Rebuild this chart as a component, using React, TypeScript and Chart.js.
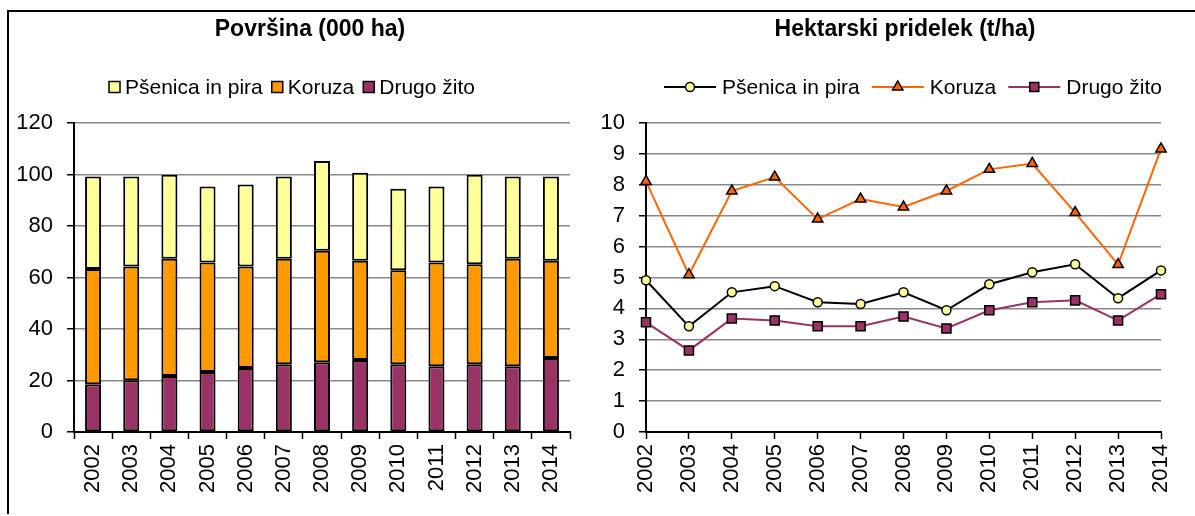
import React, { useEffect, useRef } from "react";
import { Chart, registerables } from "chart.js";

Chart.register(...registerables);

const FONT = "'Liberation Sans', Arial, Helvetica, sans-serif";
Chart.defaults.font.family = FONT;
Chart.defaults.color = "#000";

// ---------- DATA ----------
const years = ["2002", "2003", "2004", "2005", "2006", "2007", "2008", "2009", "2010", "2011", "2012", "2013", "2014"];
const seriesNames = ["Pšenica in pira", "Koruza", "Drugo žito"];

// Površina (000 ha)
const areaWheat = [35.9, 34.9, 32.6, 29.5, 31.8, 31.9, 34.8, 34.2, 31.7, 29.5, 34.8, 31.9, 32.7];
const areaMaize = [44.8, 44.2, 45.6, 42.5, 39.4, 41.0, 43.3, 38.5, 36.5, 40.3, 38.8, 41.8, 37.8];
const areaOther = [18.5, 20.1, 21.7, 23.3, 24.9, 26.3, 27.1, 28.0, 26.3, 25.5, 26.3, 25.5, 28.7];

// Hektarski pridelek (t/ha)
const yieldWheat = [4.91, 3.42, 4.52, 4.72, 4.2, 4.14, 4.52, 3.94, 4.78, 5.17, 5.43, 4.33, 5.23];
const yieldMaize = [8.11, 5.09, 7.8, 8.25, 6.89, 7.54, 7.28, 7.8, 8.5, 8.69, 7.1, 5.42, 9.16];
const yieldOther = [3.55, 2.64, 3.67, 3.61, 3.42, 3.42, 3.74, 3.35, 3.94, 4.2, 4.26, 3.61, 4.46];

const areaAxis = { min: 0, max: 120, step: 20 };
const yieldAxis = { min: 0, max: 10, step: 1 };

const titleArea = "Površina (000 ha)";
const titleYield = "Hektarski pridelek (t/ha)";

// ---------- STYLES ----------
const C_WHEAT = "#FFFF99";
const C_MAIZE_BAR = "#FF9900";
const C_OTHER = "#993366";
const C_MAIZE_LINE = "#FF6600";

type LegendItem = {
  label: string;
  fill: string;
  line?: string;
  marker?: "circle" | "triangle" | "rect";
};

function drawMarker(ctx: CanvasRenderingContext2D, kind: string, x: number, y: number, fill: string) {
  ctx.beginPath();
  if (kind === "circle") {
    ctx.arc(x, y, 4.5, 0, Math.PI * 2);
  } else if (kind === "triangle") {
    const r = 6;
    ctx.moveTo(x, y - r);
    ctx.lineTo(x + r * 0.866, y + r * 0.5);
    ctx.lineTo(x - r * 0.866, y + r * 0.5);
    ctx.closePath();
  } else {
    ctx.rect(x - 4.5, y - 4.5, 9, 9);
  }
  ctx.fillStyle = fill;
  ctx.fill();
  ctx.lineWidth = 1.5;
  ctx.strokeStyle = "#000";
  ctx.stroke();
}

function makeHeader(cfg: {
  title: string;
  titleX: number;
  titleY: number;
  legendX: number;
  legendY: number;
  kind: "box" | "line";
  items: LegendItem[];
}) {
  return {
    id: "header",
    afterDraw(chart: any) {
      const ctx: CanvasRenderingContext2D = chart.ctx;
      ctx.save();
      ctx.fillStyle = "#000";
      ctx.textBaseline = "middle";
      ctx.textAlign = "center";
      ctx.font = `bold 23px ${FONT}`;
      ctx.fillText(cfg.title, cfg.titleX, cfg.titleY);

      ctx.font = `21px ${FONT}`;
      const symW = cfg.kind === "box" ? 11 : 52;
      const symGap = cfg.kind === "box" ? 5 : 6;
      const itemGap = cfg.kind === "box" ? 9 : 12;
      const widths = cfg.items.map((it) => ctx.measureText(it.label).width);
      const total =
        widths.reduce((a, b) => a + b, 0) +
        cfg.items.length * (symW + symGap) +
        (cfg.items.length - 1) * itemGap;
      let x = cfg.legendX - total / 2;
      const y = cfg.legendY;
      cfg.items.forEach((it, i) => {
        if (cfg.kind === "box") {
          ctx.fillStyle = it.fill;
          ctx.fillRect(x, y - 5.5, 11, 11);
          ctx.lineWidth = 1.5;
          ctx.strokeStyle = "#000";
          ctx.strokeRect(x, y - 5.5, 11, 11);
        } else {
          ctx.beginPath();
          ctx.moveTo(x, y);
          ctx.lineTo(x + symW, y);
          ctx.lineWidth = 2;
          ctx.strokeStyle = it.line || "#000";
          ctx.stroke();
          drawMarker(ctx, it.marker || "circle", x + symW / 2, y, it.fill);
        }
        x += symW + symGap;
        ctx.fillStyle = "#000";
        ctx.textAlign = "left";
        ctx.fillText(it.label, x, y + 1);
        x += widths[i] + itemGap;
      });
      ctx.restore();
    },
  };
}

const tickFont = { size: 22, family: FONT };

function barConfig(): any {
  return {
    type: "bar",
    data: {
      labels: years,
      datasets: [
        { label: seriesNames[2], data: areaOther, backgroundColor: C_OTHER },
        { label: seriesNames[1], data: areaMaize, backgroundColor: C_MAIZE_BAR },
        { label: seriesNames[0], data: areaWheat, backgroundColor: C_WHEAT },
      ].map((d) => ({
        ...d,
        borderColor: "#000",
        borderWidth: 2,
        borderSkipped: false,
        barPercentage: 0.42,
        categoryPercentage: 1,
      })),
    },
    options: {
      animation: false,
      responsive: true,
      maintainAspectRatio: false,
      layout: { padding: { top: 110, right: 25, left: 0, bottom: 0 } },
      plugins: { legend: { display: false }, title: { display: false }, tooltip: { enabled: false } },
      scales: {
        x: {
          stacked: true,
          afterFit: (s: any) => {
            s.height = 84;
          },
          grid: { drawOnChartArea: false, drawTicks: true, tickLength: 7, tickColor: "#000", tickWidth: 1.5, offset: true },
          border: { color: "#000", width: 2 },
          ticks: { font: tickFont, minRotation: 90, maxRotation: 90, padding: 5, autoSkip: false },
        },
        y: {
          stacked: true,
          min: areaAxis.min,
          max: areaAxis.max,
          afterFit: (s: any) => {
            s.width = 64;
          },
          grid: { color: "#888888", lineWidth: 1.5, tickLength: 7, tickColor: "#000", tickWidth: 1.5 },
          border: { color: "#000", width: 2 },
          ticks: { font: tickFont, stepSize: areaAxis.step, padding: 14 },
        },
      },
    },
    plugins: [
      makeHeader({
        title: titleArea,
        titleX: 300,
        titleY: 17,
        legendX: 282,
        legendY: 74,
        kind: "box",
        items: [
          { label: seriesNames[0], fill: C_WHEAT },
          { label: seriesNames[1], fill: C_MAIZE_BAR },
          { label: seriesNames[2], fill: C_OTHER },
        ],
      }),
    ],
  };
}

function lineConfig(): any {
  return {
    type: "line",
    data: {
      labels: years,
      datasets: [
        {
          label: seriesNames[0],
          data: yieldWheat,
          borderColor: "#000",
          pointStyle: "circle",
          pointRadius: 4.5,
          pointBackgroundColor: C_WHEAT,
        },
        {
          label: seriesNames[1],
          data: yieldMaize,
          borderColor: C_MAIZE_LINE,
          pointStyle: "triangle",
          pointRadius: 6,
          pointBackgroundColor: C_MAIZE_LINE,
        },
        {
          label: seriesNames[2],
          data: yieldOther,
          borderColor: C_OTHER,
          pointStyle: "rect",
          pointRadius: 6.4,
          pointBackgroundColor: C_OTHER,
        },
      ].map((d) => ({
        ...d,
        borderWidth: 2,
        pointBorderColor: "#000",
        pointBorderWidth: 1.5,
        tension: 0,
        clip: false,
        fill: false,
      })),
    },
    options: {
      animation: false,
      responsive: true,
      maintainAspectRatio: false,
      layout: { padding: { top: 110, right: 34, left: 0, bottom: 0 } },
      plugins: { legend: { display: false }, title: { display: false }, tooltip: { enabled: false } },
      scales: {
        x: {
          offset: false,
          afterFit: (s: any) => {
            s.height = 84;
          },
          grid: { drawOnChartArea: false, drawTicks: true, tickLength: 7, tickColor: "#000", tickWidth: 1.5, offset: false },
          border: { color: "#000", width: 2 },
          ticks: { font: tickFont, minRotation: 90, maxRotation: 90, padding: 5, autoSkip: false },
        },
        y: {
          min: yieldAxis.min,
          max: yieldAxis.max,
          afterFit: (s: any) => {
            s.width = 51;
          },
          grid: { color: "#888888", lineWidth: 1.5, tickLength: 7, tickColor: "#000", tickWidth: 1.5 },
          border: { color: "#000", width: 2 },
          ticks: { font: tickFont, stepSize: yieldAxis.step, padding: 14 },
        },
      },
    },
    plugins: [
      makeHeader({
        title: titleYield,
        titleX: 310,
        titleY: 17,
        legendX: 318,
        legendY: 74,
        kind: "line",
        items: [
          { label: seriesNames[0], fill: C_WHEAT, line: "#000", marker: "circle" },
          { label: seriesNames[1], fill: C_MAIZE_LINE, line: C_MAIZE_LINE, marker: "triangle" },
          { label: seriesNames[2], fill: C_OTHER, line: C_OTHER, marker: "rect" },
        ],
      }),
    ],
  };
}

function ChartBox({ make, left, top, width, height }: { make: () => any; left: number; top: number; width: number; height: number }) {
  const ref = useRef<HTMLCanvasElement>(null);
  useEffect(() => {
    const chart = new Chart(ref.current as HTMLCanvasElement, make());
    return () => chart.destroy();
  }, []);
  return (
    <div style={{ position: "absolute", left, top, width, height }}>
      <canvas ref={ref} />
    </div>
  );
}

export default function App() {
  return (
    <div style={{ position: "fixed", left: 0, top: 0, width: 1195, height: 516, background: "#fff", overflow: "hidden" }}>
      <div style={{ position: "absolute", left: 8, top: 10, width: 1187, height: 2, background: "#000" }} />
      <div style={{ position: "absolute", left: 7, top: 10, width: 2, height: 504, background: "#000" }} />
      <ChartBox make={barConfig} left={10} top={13} width={585} height={503} />
      <ChartBox make={lineConfig} left={595} top={13} width={600} height={503} />
    </div>
  );
}
